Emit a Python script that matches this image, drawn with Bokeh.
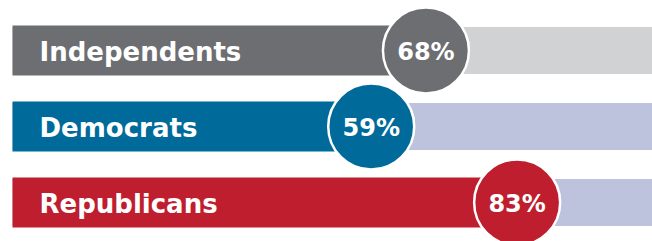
from bokeh.plotting import figure
from bokeh.models import Range1d, ColumnDataSource
from bokeh.core.properties import value
from bokeh.embed import file_html
from bokeh.resources import INLINE

groups = ["Independents", "Democrats", "Republicans"]
shares = [68, 59, 83]
share_labels = ["68%", "59%", "83%"]
dark_colors = ["#6d6e71", "#006a9a", "#be1e2d"]
light_colors = ["#d1d2d4", "#bec3dd", "#bec3dd"]

idx = list(range(len(groups)))
src = ColumnDataSource(dict(y=idx, group=groups, share=shares, lab=share_labels,
                            dark=dark_colors, light=light_colors,
                            zero=[0] * len(groups), full=[120] * len(groups)))

W, H = 652, 241
px_per_unit = 6.08  # pixels per percentage point
x0 = -12 / px_per_unit
x1 = x0 + W / px_per_unit
row = 76.0
y_top = -50 / row
y_bot = y_top + H / row

p = figure(width=W, height=H, output_backend="svg", toolbar_location=None,
           x_range=Range1d(x0, x1), y_range=Range1d(y_bot, y_top),
           min_border=0, outline_line_color=None, background_fill_color="white",
           border_fill_color="white")
p.axis.visible = False
p.grid.visible = False

p.hbar(y="y", left="zero", right="full", height=47 / row, fill_color="light",
       line_color=None, source=src)
p.hbar(y="y", left="zero", right="share", height=50 / row, fill_color="dark",
       line_color=None, source=src)
p.scatter(x="share", y="y", size=86, marker="circle", fill_color="dark",
          line_color="white", line_width=2.5, source=src)

p.text(x="zero", y="y", text="group", x_offset=27, y_offset=1,
       text_font=value("DejaVu Sans"), text_font_style="bold",
       text_font_size="26px", text_color="white", text_baseline="middle",
       text_align="left", source=src)
p.text(x="share", y="y", text="lab", y_offset=1,
       text_font=value("DejaVu Sans"), text_font_style="bold",
       text_font_size="24px", text_color="white", text_baseline="middle",
       text_align="center", source=src)

open("out.html", "w").write(file_html(p, INLINE))
